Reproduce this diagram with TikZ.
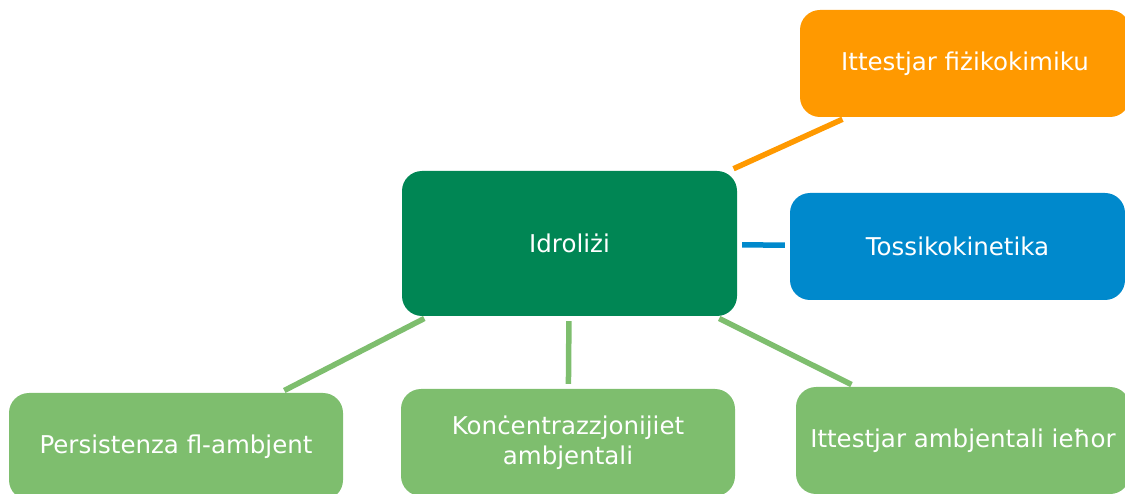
\documentclass[tikz,border=0pt]{standalone}
\usepackage{fontspec}
\setmainfont{DejaVu Sans}
\definecolor{darkgreen}{RGB}{0,134,84}
\definecolor{lightgreen}{RGB}{126,190,110}
\definecolor{orangebox}{RGB}{255,153,0}
\definecolor{bluebox}{RGB}{0,137,204}
\begin{document}
\begin{tikzpicture}[x=1pt,y=-1pt,
  box/.style={rectangle,rounded corners=20pt,text=white,align=center,
    inner sep=0pt,font=\fontsize{24.5}{30}\selectfont},
  link/.style={line width=5.5pt,shorten <=5pt,shorten >=5pt}]
%% frame
  \useasboundingbox (0,0) rectangle (1125,494);
  \clip (0,0) rectangle (1125,494);

%% nodes
  \node[box,fill=darkgreen,minimum width=335pt,minimum height=145pt] (idr) at (569.5,243.5) {Idroliżi};
  \node[box,fill=orangebox,minimum width=330pt,minimum height=107pt] (fiz) at (965,63.5) {Ittestjar fiżikokimiku};
  \node[box,fill=bluebox,minimum width=335pt,minimum height=107pt] (tos) at (957.5,246.5) {Tossikokinetika};
  \node[box,fill=lightgreen,minimum width=334pt,minimum height=107pt] (per) at (176,446.5) {Persistenza fl-ambjent};
  \node[box,fill=lightgreen,minimum width=334pt,minimum height=107pt] (kon) at (568,442.5) {Konċentrazzjonijiet\\ambjentali};
  \node[box,fill=lightgreen,minimum width=334pt,minimum height=107pt] (amb) at (963,440.5) {Ittestjar ambjentali ieħor};

%% links
  \draw[link,orangebox] (idr) -- (fiz);
  \draw[link,bluebox] (idr) -- (tos);
  \draw[link,lightgreen] (idr) -- (per);
  \draw[link,lightgreen] (idr) -- (kon);
  \draw[link,lightgreen] (idr) -- (amb);
\end{tikzpicture}
\end{document}
